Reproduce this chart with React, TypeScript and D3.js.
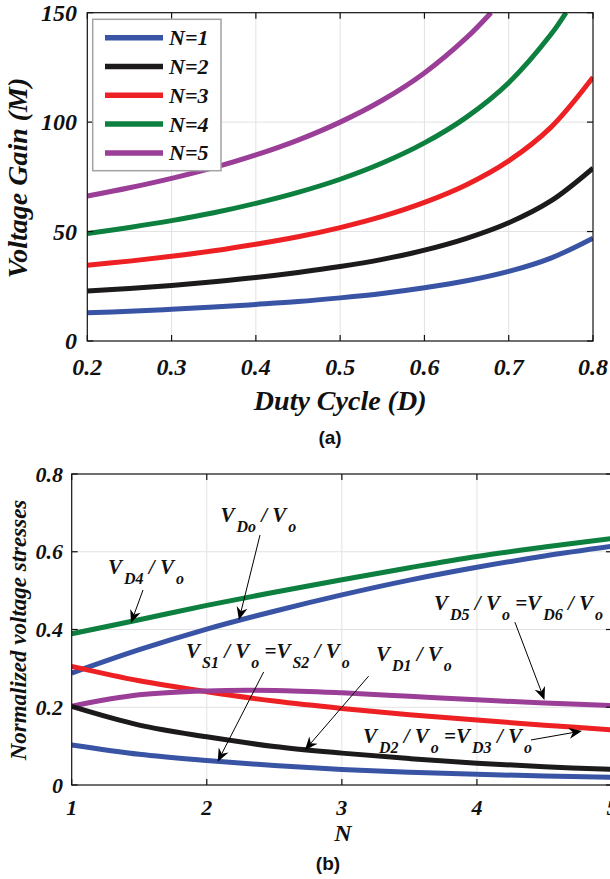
import React from 'react';
import * as d3 from 'd3';

// ---------- Panel (a): voltage gain vs duty cycle ----------
const DUTY = [0.2, 0.25, 0.3, 0.35, 0.4, 0.45, 0.5, 0.55, 0.6, 0.65, 0.7, 0.75, 0.8];
const DUTY_N4 = [0.2, 0.25, 0.3, 0.35, 0.4, 0.45, 0.5, 0.55, 0.6, 0.65, 0.7, 0.75, 0.768];
const DUTY_N5 = [0.2, 0.25, 0.3, 0.35, 0.4, 0.45, 0.5, 0.55, 0.6, 0.65, 0.679];
const GAIN_N1 = [12.9, 13.6, 14.5, 15.5, 16.7, 18.0, 19.7, 21.7, 24.3, 27.5, 31.8, 37.9, 47.0];
const GAIN_N2 = [22.8, 24.0, 25.4, 27.1, 29.0, 31.3, 34.0, 37.3, 41.5, 46.9, 54.0, 64.0, 79.0];
const GAIN_N3 = [34.6, 36.5, 38.7, 41.2, 44.2, 47.6, 51.8, 56.9, 63.3, 71.4, 82.3, 97.6, 120.5];
const GAIN_N4 = [49.1, 51.9, 55.0, 58.6, 62.9, 67.9, 73.9, 81.3, 90.5, 102.3, 118.0, 140.0, 150];
const GAIN_N5 = [66.2, 70.0, 74.3, 79.2, 85.0, 91.8, 100.0, 110.0, 122.5, 138.6, 150];
const GAIN_LABELS = ['N=1', 'N=2', 'N=3', 'N=4', 'N=5'];
const GAIN_COLORS = ['#3953a5', '#1c1a1b', '#ed2024', '#0d7f3e', '#9a3e97'];
const DUTY_TICKS = [0.2, 0.3, 0.4, 0.5, 0.6, 0.7, 0.8];
const GAIN_TICKS = [0, 50, 100, 150];

// ---------- Panel (b): normalized voltage stresses vs N ----------
const N_VALUES = [1, 1.5, 2, 2.5, 3, 3.5, 4, 4.5, 5];
const S_VD4 = [0.389, 0.425, 0.462, 0.496, 0.528, 0.559, 0.588, 0.612, 0.634];
const S_VDO = [0.288, 0.348, 0.401, 0.447, 0.489, 0.527, 0.56, 0.589, 0.614];
const S_VD23 = [0.305, 0.268, 0.24, 0.216, 0.197, 0.181, 0.167, 0.154, 0.142];
const S_VD56 = [0.203, 0.232, 0.242, 0.243, 0.237, 0.228, 0.219, 0.211, 0.204];
const S_VD1 = [0.202, 0.154, 0.124, 0.099, 0.082, 0.068, 0.056, 0.047, 0.04];
const S_VS = [0.103, 0.079, 0.063, 0.05, 0.04, 0.033, 0.0275, 0.023, 0.02];
const STRESS_COLORS = ['#0d7f3e', '#3953a5', '#ed2024', '#9a3e97', '#1c1a1b', '#3953a5'];
const N_TICKS = [1, 2, 3, 4, 5];
const STRESS_TICKS = [0, 0.2, 0.4, 0.6, 0.8];

// annotation text parts: [text, subscript?]
const ANNOTATIONS = [
  { parts: [['V', 0], ['Do', 1], [' / V', 0], ['o', 1]], at: [2.101, 0.6765], from: [2.394, 0.643], to: [2.238, 0.4244] },
  { parts: [['V', 0], ['D4', 1], [' / V', 0], ['o', 1]], at: [1.269, 0.5415], from: [1.528, 0.5016], to: [1.439, 0.4167] },
  { parts: [['V', 0], ['D5', 1], [' / V', 0], ['o', 1], [' =V', 0], ['D6', 1], [' / V', 0], ['o', 1]], at: [3.682, 0.4514], from: [4.281, 0.419], to: [4.5, 0.2186] },
  { parts: [['V', 0], ['S1', 1], [' / V', 0], ['o', 1], [' =V', 0], ['S2', 1], [' / V', 0], ['o', 1]], at: [1.846, 0.3267], from: [2.421, 0.2907], to: [2.081, 0.06] },
  { parts: [['V', 0], ['D1', 1], [' / V', 0], ['o', 1]], at: [3.252, 0.3177], from: [3.198, 0.28], to: [2.727, 0.09] },
  { parts: [['V', 0], ['D2', 1], [' / V', 0], ['o', 1], [' =V', 0], ['D3', 1], [' / V', 0], ['o', 1]], at: [3.156, 0.108], from: [4.4, 0.1158], to: [4.777, 0.1389] },
];

const SERIF = "'Liberation Serif', 'DejaVu Serif', serif";
const SANS = "'Liberation Sans', Arial, sans-serif";
const serifBI = (size: number): React.CSSProperties => ({ fontFamily: SERIF, fontWeight: 700, fontStyle: 'italic', fontSize: size });

const A = { left: 87.3, right: 593, top: 12.7, bottom: 341 };
const B = { left: 71.7, right: 612, top: 474, bottom: 785 };

function Arrow({ x1, y1, x2, y2 }: { x1: number; y1: number; x2: number; y2: number }) {
  const ang = Math.atan2(y2 - y1, x2 - x1);
  const L = 13, W = 5.5, notch = 4;
  const c = Math.cos(ang), s = Math.sin(ang);
  const bx = x2 - L * c, by = y2 - L * s;
  const p1 = [bx - W * s, by + W * c];
  const p2 = [bx + W * s, by - W * c];
  const pn = [x2 - (L - notch) * c, y2 - (L - notch) * s];
  return (
    <g>
      <line x1={x1} y1={y1} x2={pn[0]} y2={pn[1]} stroke="#000" strokeWidth={1} />
      <path d={`M${x2},${y2}L${p1[0]},${p1[1]}L${pn[0]},${pn[1]}L${p2[0]},${p2[1]}Z`} fill="#000" />
    </g>
  );
}

export default function App() {
  const xa = d3.scaleLinear().domain([0.2, 0.8]).range([A.left, A.right]);
  const ya = d3.scaleLinear().domain([0, 150]).range([A.bottom, A.top]);
  const xb = d3.scaleLinear().domain([1, 5]).range([B.left, B.right]);
  const yb = d3.scaleLinear().domain([0, 0.8]).range([B.bottom, B.top]);

  const gainSeries = [
    [DUTY, GAIN_N1], [DUTY, GAIN_N2], [DUTY, GAIN_N3], [DUTY_N4, GAIN_N4], [DUTY_N5, GAIN_N5],
  ];
  const stressSeries = [S_VD4, S_VDO, S_VD23, S_VD56, S_VD1, S_VS];

  const lineA = d3.line<[number, number]>().x(d => xa(d[0])).y(d => ya(d[1])).curve(d3.curveCatmullRom.alpha(0.5));
  const lineB = d3.line<[number, number]>().x(d => xb(d[0])).y(d => yb(d[1])).curve(d3.curveCatmullRom.alpha(0.5));

  const tick = 6;
  const grid = '#e2e2e2';

  return (
    <svg width={610} height={879} style={{ position: 'absolute', left: 0, top: 0, background: '#fff' }}>
      <defs>
        <clipPath id="clipA"><rect x={A.left} y={A.top} width={A.right - A.left} height={A.bottom - A.top} /></clipPath>
        <clipPath id="clipB"><rect x={B.left} y={B.top} width={B.right - B.left} height={B.bottom - B.top} /></clipPath>
      </defs>

      {/* ---------- Panel (a) ---------- */}
      <rect x={A.left} y={A.top} width={A.right - A.left} height={A.bottom - A.top} fill="#fff" />
      {DUTY_TICKS.slice(1, -1).map(t => (
        <line key={'gxa' + t} x1={xa(t)} x2={xa(t)} y1={A.top} y2={A.bottom} stroke={grid} strokeWidth={1} />
      ))}
      {GAIN_TICKS.slice(1, -1).map(t => (
        <line key={'gya' + t} x1={A.left} x2={A.right} y1={ya(t)} y2={ya(t)} stroke={grid} strokeWidth={1} />
      ))}
      <g clipPath="url(#clipA)">
        {gainSeries.map(([xs, ys], i) => (
          <path key={'ga' + i} d={lineA(xs.map((x, j) => [x, ys[j]]) as [number, number][]) || ''}
            fill="none" stroke={GAIN_COLORS[i]} strokeWidth={5} />
        ))}
      </g>
      <rect x={A.left} y={A.top} width={A.right - A.left} height={A.bottom - A.top} fill="none" stroke="#111" strokeWidth={1.2} />
      {DUTY_TICKS.map(t => (
        <g key={'txa' + t}>
          <line x1={xa(t)} x2={xa(t)} y1={A.bottom} y2={A.bottom - tick} stroke="#111" strokeWidth={1.2} />
          <line x1={xa(t)} x2={xa(t)} y1={A.top} y2={A.top + tick} stroke="#111" strokeWidth={1.2} />
          <text x={xa(t)} y={375} textAnchor="middle" style={serifBI(24)} fill="#111">{t.toFixed(1)}</text>
        </g>
      ))}
      {GAIN_TICKS.map(t => (
        <g key={'tya' + t}>
          <line x1={A.left} x2={A.left + tick} y1={ya(t)} y2={ya(t)} stroke="#111" strokeWidth={1.2} />
          <line x1={A.right} x2={A.right - tick} y1={ya(t)} y2={ya(t)} stroke="#111" strokeWidth={1.2} />
          <text x={77} y={ya(t) + 8} textAnchor="end" style={serifBI(24)} fill="#111">{t}</text>
        </g>
      ))}
      <text x={(A.left + A.right) / 2} y={410} textAnchor="middle" style={serifBI(28)} fill="#111">Duty Cycle (D)</text>
      <text transform={`translate(27,178) rotate(-90)`} textAnchor="middle" style={serifBI(28)} fill="#111">Voltage Gain (M)</text>

      {/* legend */}
      <rect x={92.7} y={19.3} width={128.3} height={151.4} fill="#fff" stroke="#a3a3a3" strokeWidth={1.5} />
      {GAIN_LABELS.map((lab, i) => (
        <g key={'lg' + i}>
          <line x1={105} x2={163} y1={37.7 + i * 28.8} y2={37.7 + i * 28.8} stroke={GAIN_COLORS[i]} strokeWidth={5.5} />
          <text x={169} y={37.7 + i * 28.8 + 7.5} style={serifBI(22)} fill="#111">{lab}</text>
        </g>
      ))}
      <text x={330} y={444} textAnchor="middle" style={{ fontFamily: SANS, fontWeight: 700, fontSize: 19 }} fill="#111">(a)</text>

      {/* ---------- Panel (b) ---------- */}
      {N_TICKS.slice(1, -1).map(t => (
        <line key={'gxb' + t} x1={xb(t)} x2={xb(t)} y1={B.top} y2={B.bottom} stroke={grid} strokeWidth={1} />
      ))}
      {STRESS_TICKS.slice(1, -1).map(t => (
        <line key={'gyb' + t} x1={B.left} x2={B.right} y1={yb(t)} y2={yb(t)} stroke={grid} strokeWidth={1} />
      ))}
      <g clipPath="url(#clipB)">
        {stressSeries.map((ys, i) => (
          <path key={'sb' + i} d={lineB(N_VALUES.map((x, j) => [x, ys[j]]) as [number, number][]) || ''}
            fill="none" stroke={STRESS_COLORS[i]} strokeWidth={5} />
        ))}
      </g>
      <rect x={B.left} y={B.top} width={B.right - B.left} height={B.bottom - B.top} fill="none" stroke="#111" strokeWidth={1.2} />
      {N_TICKS.map(t => (
        <g key={'txb' + t}>
          <line x1={xb(t)} x2={xb(t)} y1={B.bottom} y2={B.bottom - tick} stroke="#111" strokeWidth={1.2} />
          <line x1={xb(t)} x2={xb(t)} y1={B.top} y2={B.top + tick} stroke="#111" strokeWidth={1.2} />
          <text x={xb(t)} y={815} textAnchor="middle" style={serifBI(22)} fill="#111">{t}</text>
        </g>
      ))}
      {STRESS_TICKS.map(t => (
        <g key={'tyb' + t}>
          <line x1={B.left} x2={B.left + tick} y1={yb(t)} y2={yb(t)} stroke="#111" strokeWidth={1.2} />
          <line x1={B.right} x2={B.right - tick} y1={yb(t)} y2={yb(t)} stroke="#111" strokeWidth={1.2} />
          <text x={63} y={yb(t) + 7.5} textAnchor="end" style={serifBI(22)} fill="#111">{t === 0 ? '0' : t.toFixed(1)}</text>
        </g>
      ))}
      <text x={(B.left + 610) / 2 + 2} y={841} textAnchor="middle" style={serifBI(24)} fill="#111">N</text>
      <text transform={`translate(26,630) rotate(-90)`} textAnchor="middle" style={serifBI(23)} fill="#111">Normalized voltage stresses</text>
      <text x={328} y={870} textAnchor="middle" style={{ fontFamily: SANS, fontWeight: 700, fontSize: 19 }} fill="#111">(b)</text>

      {/* annotations */}
      {ANNOTATIONS.map((a, i) => (
        <g key={'an' + i}>
          <text x={xb(a.at[0])} y={yb(a.at[1])} style={{ ...serifBI(21), whiteSpace: 'pre' }} fill="#111">
            {a.parts.map(([txt, sub], j) => {
              const prevSub = j > 0 ? a.parts[j - 1][1] : 0;
              const dy = (sub ? 10 : 0) - (prevSub ? 10 : 0);
              return (
                <tspan key={j} dy={dy} dx={sub ? 2 : 0} style={{ fontSize: sub ? 16 : 21 }}>{txt}</tspan>
              );
            })}
          </text>
          <Arrow x1={xb(a.from[0])} y1={yb(a.from[1])} x2={xb(a.to[0])} y2={yb(a.to[1])} />
        </g>
      ))}
    </svg>
  );
}
